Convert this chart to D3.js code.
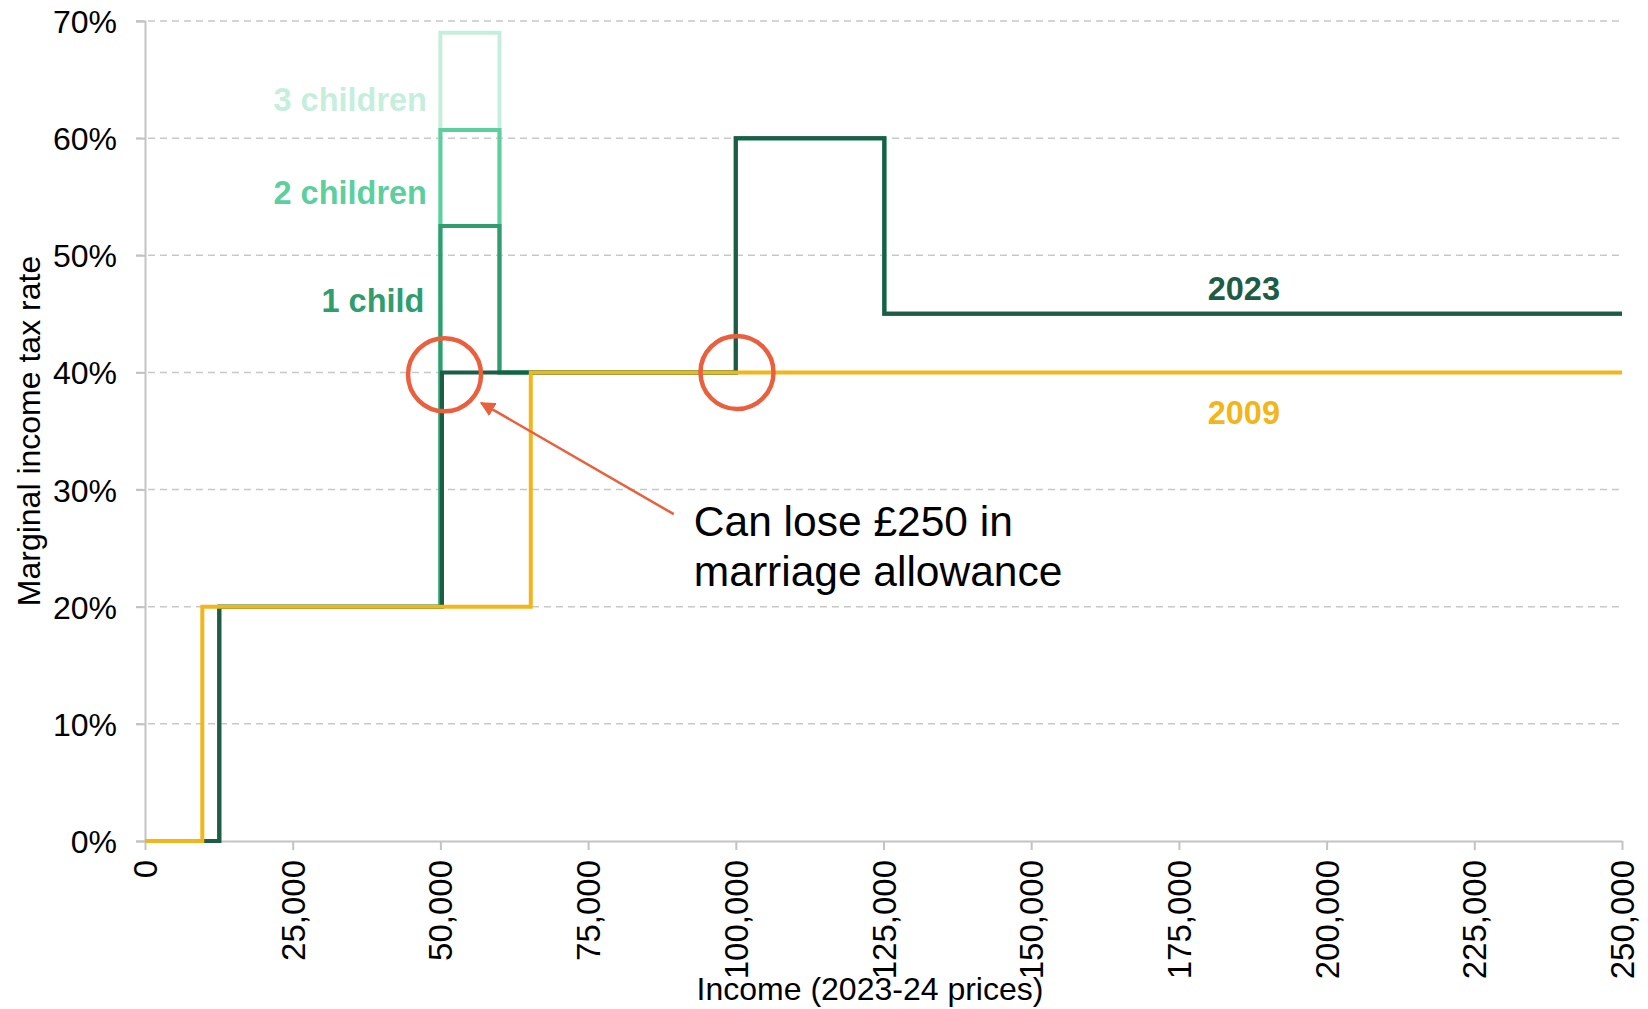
<!DOCTYPE html>
<html>
<head>
<meta charset="utf-8">
<script src="https://d3js.org/d3.v7.min.js"></script>
<style>
    body { margin: 0; background: #fff; }
    svg { font-family: "Liberation Sans", Arial, sans-serif; display: block; }
    .grid line { stroke: #c8c8c8; stroke-width: 1.5px; stroke-dasharray: 7, 5; }
    .axis path, .axis line { stroke: #c3c3c3; stroke-width: 2px; }
    .axis text { fill: #000; }
    .axis--y text { font-size: 32px; }
    .axis--x text { font-size: 33px; }
    .series { fill: none; stroke-width: 4px; }
    .lbl { font-weight: bold; font-size: 32.5px; }
</style>
</head>
<body>
<svg width="1648" height="1009"></svg>
<script>
// income break points (2023-24 prices) and marginal rates (%) - step after each point
var incomes2023 = [0, 12570, 50270, 100000, 125140, 250000];
var rates2023 = [0, 20, 40, 60, 45, 45];

var incomes2009 = [0, 9700, 65300, 250000];
var rates2009 = [0, 20, 40, 40];

var incomesChild = [0, 12570, 50000, 60000, 100000, 125140, 250000];
var rates1Child = [0, 20, 52.5, 40, 60, 45, 45];
var rates2Children = [0, 20, 60.7, 40, 60, 45, 45];
var rates3Children = [0, 20, 69, 40, 60, 45, 45];

var xTicks = [0, 25000, 50000, 75000, 100000, 125000, 150000, 175000, 200000, 225000, 250000];
var yTicks = [0, 10, 20, 30, 40, 50, 60, 70];

// marked points
var circlePoints = [[50700, 39.8], [100200, 40]];

var svg = d3.select("svg"),
    margin = { top: 21, right: 26, bottom: 168, left: 145 },
    width = +svg.attr("width") - margin.left - margin.right,
    height = +svg.attr("height") - margin.top - margin.bottom;

var x = d3.scaleLinear().domain([0, 250000]).range([0, width]);
var y = d3.scaleLinear().domain([0, 70]).range([height, 0]);

var g = svg.append("g")
    .attr("transform", "translate(" + margin.left + "," + margin.top + ")");

// gridlines
g.append("g")
    .attr("class", "grid")
    .selectAll("line")
    .data(yTicks.filter(function (d) { return d > 0; }))
    .enter().append("line")
    .attr("x1", -9)
    .attr("x2", width)
    .attr("y1", function (d) { return y(d); })
    .attr("y2", function (d) { return y(d); });

// y axis
var yAxis = g.append("g")
    .attr("class", "axis axis--y")
    .call(d3.axisLeft(y).tickValues(yTicks).tickSize(9).tickPadding(19)
        .tickFormat(function (d) { return d + "%"; }));
yAxis.selectAll(".tick text").attr("dy", "0.36em");

// x axis
var xAxis = g.append("g")
    .attr("class", "axis axis--x")
    .attr("transform", "translate(0," + height + ")")
    .call(d3.axisBottom(x).tickValues(xTicks).tickSize(9).tickSizeOuter(0).tickFormat(d3.format(",")));
xAxis.selectAll(".tick text")
    .attr("transform", "rotate(-90)")
    .attr("text-anchor", "end")
    .attr("x", -19)
    .attr("y", 0)
    .attr("dy", "0.35em");

// axis titles
svg.append("text")
    .attr("transform", "translate(" + 40 + "," + (margin.top + height / 2) + ") rotate(-90)")
    .attr("text-anchor", "middle")
    .style("font-size", "32px")
    .text("Marginal income tax rate");

svg.append("text")
    .attr("x", 870)
    .attr("y", 1000)
    .attr("text-anchor", "middle")
    .style("font-size", "32px")
    .text("Income (2023-24 prices)");

function stepLine(xs, ys) {
    return d3.line()
        .x(function (d) { return x(d[0]); })
        .y(function (d) { return y(d[1]); })
        .curve(d3.curveStepAfter)(d3.zip(xs, ys));
}

var series = [
    { xs: incomesChild, ys: rates3Children, color: "#c6eedd" },
    { xs: incomesChild, ys: rates2Children, color: "#5ccf9f" },
    { xs: incomesChild, ys: rates1Child, color: "#2f9d70" },
    { xs: incomes2023, ys: rates2023, color: "#1d5c45" },
    { xs: incomes2009, ys: rates2009, color: "#f2b51c" }
];

g.selectAll(".series")
    .data(series)
    .enter().append("path")
    .attr("class", "series")
    .attr("stroke", function (d) { return d.color; })
    .attr("d", function (d) { return stepLine(d.xs, d.ys); });

// labels
var labels = [
    { text: "3 children", x: 47730, y: 62.3, color: "#c6eedd", anchor: "end" },
    { text: "2 children", x: 47730, y: 54.4, color: "#5ccf9f", anchor: "end" },
    { text: "1 child", x: 47300, y: 45.2, color: "#2f9d70", anchor: "end" },
    { text: "2023", x: 186000, y: 46.2, color: "#1d5c45", anchor: "middle" },
    { text: "2009", x: 186000, y: 35.6, color: "#f2b51c", anchor: "middle" }
];
g.selectAll(".lbl")
    .data(labels)
    .enter().append("text")
    .attr("class", "lbl")
    .attr("x", function (d) { return x(d.x); })
    .attr("y", function (d) { return y(d.y); })
    .attr("text-anchor", function (d) { return d.anchor; })
    .attr("fill", function (d) { return d.color; })
    .text(function (d) { return d.text; });

// circles
g.selectAll(".ring")
    .data(circlePoints)
    .enter().append("circle")
    .attr("class", "ring")
    .attr("cx", function (d) { return x(d[0]); })
    .attr("cy", function (d) { return y(d[1]); })
    .attr("r", 36.5)
    .attr("fill", "none")
    .attr("stroke", "#ea5f3d")
    .attr("stroke-width", 4.5);

// annotation arrow
svg.append("defs").append("marker")
    .attr("id", "arrow")
    .attr("viewBox", "0 0 10 10")
    .attr("refX", 9)
    .attr("refY", 5)
    .attr("markerWidth", 6)
    .attr("markerHeight", 6)
    .attr("orient", "auto")
    .append("path")
    .attr("d", "M0,0 L10,5 L0,10 z")
    .attr("fill", "#ea5f3d");

g.append("line")
    .attr("x1", x(89500))
    .attr("y1", y(27.9))
    .attr("x2", x(56900))
    .attr("y2", y(37.4))
    .attr("stroke", "#ea5f3d")
    .attr("stroke-width", 2.5)
    .attr("marker-end", "url(#arrow)");

var note = g.append("text")
    .attr("x", x(92900))
    .attr("y", y(26.0))
    .style("font-size", "42.5px")
    .attr("fill", "#000");
note.append("tspan").text("Can lose £250 in");
note.append("tspan").attr("x", x(92900)).attr("dy", 50).text("marriage allowance");
</script>
</body>
</html>
